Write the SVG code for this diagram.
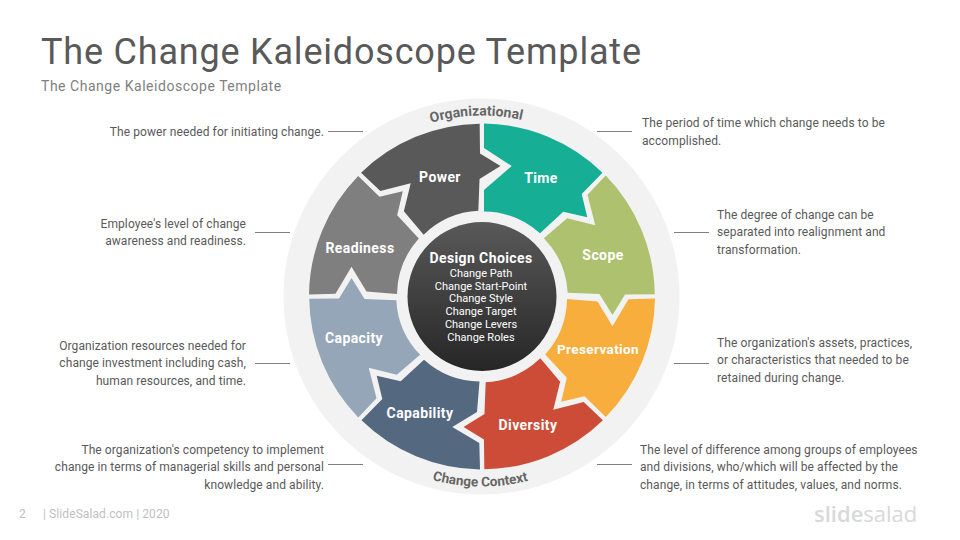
<svg xmlns="http://www.w3.org/2000/svg" width="960" height="540" viewBox="0 0 960 540">
<style>
text{font-family:Roboto,"Liberation Sans",sans-serif}
.desc{font-size:12px;fill:#595959;letter-spacing:.09px}
.r{text-anchor:end}
.lab{font-size:14px;font-weight:700;fill:#fff;text-anchor:middle;letter-spacing:.4px}
.sub{font-size:11px;fill:#fff;text-anchor:middle}
.arc{font-size:14px;font-weight:700;fill:#666;text-anchor:middle}
.ln{stroke:#7f7f7f;stroke-width:1;fill:none}
</style>
<defs>
<linearGradient id="core" x1="0" y1="0" x2="0" y2="1"><stop offset="0" stop-color="#595959"/><stop offset="1" stop-color="#262626"/></linearGradient>
<path id="seg" d="M484 123.5A173 173 0 0 1 602.5 172.7L581.7 194L587.3 217.3L563.3 211.7L540 233.3A85 85 0 0 0 484.5 211.5L487 181L511.7 166L484.7 150Z"/>
<path id="topArc" d="M301 296.5A181 181 0 0 1 663 296.5"/>
<path id="botArc" d="M292 296.5A190 190 0 0 0 672 296.5"/>
</defs>
<rect width="960" height="540" fill="#fff"/>
<text x="41" y="64" font-size="36" fill="#595959" id="title" letter-spacing=".8">The Change Kaleidoscope Template</text>
<text x="41" y="91" font-size="14" fill="#7f7f7f" id="subtitle" letter-spacing=".53">The Change Kaleidoscope Template</text>
<g id="ring"><circle cx="481.5" cy="296.5" r="198" fill="#f2f2f2"/>
<text class="arc"><textPath href="#topArc" startOffset="49%">Organizational</textPath></text>
<text class="arc" style="font-size:13.5px"><textPath href="#botArc" startOffset="49.7%">Change Context</textPath></text></g>
<g id="connectors">
<path class="ln" d="M328 131.5H363M255 232.5H290M255 363.5H290M328 464.5H363M597 131.5H632M674 232.5H709M674 363.5H709M597 464.5H632"/>
</g>
<g id="time"><path d="M484 123.5A173 173 0 0 1 602.5 172.7L581.7 194L587.3 217.3L563.3 211.7L540 233.3A85 85 0 0 0 484 211.5L484 190L511.7 166L484 148Z" fill="#17ae96"/><text class="lab" x="541" y="183">Time</text></g>
<g id="scope"><use href="#seg" fill="#adc16f" transform="rotate(45 482 296.5)"/><text class="lab" x="603" y="260">Scope</text></g>
<g id="preservation"><use href="#seg" fill="#f7ae3c" transform="rotate(90 482 296.5)"/><text class="lab" x="598" y="354" style="font-size:13.5px">Preservation</text></g>
<g id="diversity"><use href="#seg" fill="#cc4c38" transform="rotate(135 482 296.5)"/><text class="lab" x="528" y="430">Diversity</text></g>
<g id="capability"><use href="#seg" fill="#54687f" transform="rotate(180 482 296.5)"/><text class="lab" x="420" y="418">Capability</text></g>
<g id="capacity"><use href="#seg" fill="#94a6b8" transform="rotate(225 482 296.5)"/><text class="lab" x="354" y="343">Capacity</text></g>
<g id="readiness"><use href="#seg" fill="#7f7f7f" transform="rotate(270 482 296.5)"/><text class="lab" x="360" y="253">Readiness</text></g>
<g id="power"><use href="#seg" fill="#595959" transform="rotate(315 482 296.5)"/><text class="lab" x="440" y="182">Power</text></g>
<g id="center"><circle cx="482" cy="296.5" r="74.5" fill="url(#core)"/>
<text class="lab" x="481" y="263">Design Choices</text>
<text class="sub" x="481" y="277">Change Path</text>
<text class="sub" x="481" y="290">Change Start-Point</text>
<text class="sub" x="481" y="302">Change Style</text>
<text class="sub" x="481" y="315">Change Target</text>
<text class="sub" x="481" y="328">Change Levers</text>
<text class="sub" x="481" y="341">Change Roles</text></g>
<g id="desc-power"><text class="desc r" x="324" y="136">The power needed for initiating change.</text></g>
<g id="desc-readiness"><text class="desc r" x="246" y="228">Employee's level of change</text><text class="desc r" x="246" y="245">awareness and readiness.</text></g>
<g id="desc-capacity"><text class="desc r" x="246" y="350">Organization resources needed for</text><text class="desc r" x="246" y="367">change investment including cash,</text><text class="desc r" x="246" y="385">human resources, and time.</text></g>
<g id="desc-capability"><text class="desc r" x="324" y="454">The organization's competency to implement</text><text class="desc r" x="324" y="471">change in terms of managerial skills and personal</text><text class="desc r" x="324" y="489">knowledge and ability.</text></g>
<g id="desc-time"><text class="desc" x="642" y="127">The period of time which change needs to be</text><text class="desc" x="642" y="145">accomplished.</text></g>
<g id="desc-scope"><text class="desc" x="717" y="219">The degree of change can be</text><text class="desc" x="717" y="236">separated into realignment and</text><text class="desc" x="717" y="254">transformation.</text></g>
<g id="desc-preservation"><text class="desc" x="717" y="347">The organization's assets, practices,</text><text class="desc" x="717" y="364">or characteristics that needed to be</text><text class="desc" x="717" y="382">retained during change.</text></g>
<g id="desc-diversity"><text class="desc" x="640" y="454">The level of difference among groups of employees</text><text class="desc" x="640" y="471">and divisions, who/which will be affected by the</text><text class="desc" x="640" y="489">change, in terms of attitudes, values, and norms.</text></g>
<g id="footer"><text x="19" y="518" font-size="12" fill="#bfbfbf">2</text><text x="43" y="518" font-size="12" fill="#bfbfbf" letter-spacing=".09">| SlideSalad.com | 2020</text>
<text x="814" y="522" font-size="22" fill="#d9d9d9" style="font-family:'Open Sans',sans-serif"><tspan font-weight="600">slide</tspan><tspan>salad</tspan></text></g>
</svg>
